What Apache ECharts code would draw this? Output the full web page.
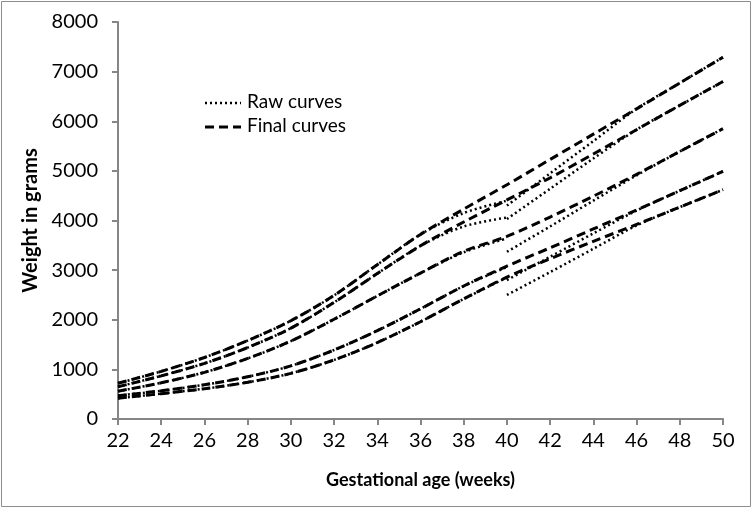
<!DOCTYPE html>
<html>
<head>
<meta charset="utf-8">
<script src="https://cdn.jsdelivr.net/npm/echarts@6/dist/echarts.min.js"></script>
<style>html,body{margin:0;padding:0;background:#fff;}#c{width:752px;height:509px;}</style>
</head>
<body>
<div id="c"></div>
<script>
// Weeks
var weeksFinal = [22,24,26,28,30,32,34,36,38,40,42,44,46,48,50];
var weeksPreterm = [22,24,26,28,30,32,34,36,38,40];
var weeksTerm = [40,42,44,46,48,50];

// Final curves (grams)
var final97 = [720,960,1240,1580,1980,2490,3110,3720,4230,4720,5230,5740,6250,6770,7290];
var final90 = [650,870,1120,1440,1830,2350,2930,3490,3970,4415,4860,5340,5830,6320,6800];
var final50 = [560,730,940,1220,1570,2010,2480,2940,3380,3680,4070,4490,4930,5390,5850];
var final10 = [470,570,690,850,1070,1390,1780,2220,2680,3080,3450,3830,4210,4600,4990];
var final3  = [420,510,610,740,920,1190,1540,1960,2420,2860,3230,3580,3920,4270,4620];

// Raw curves: preterm data (22-40 weeks)
var rawPre97 = [720,960,1240,1580,1980,2490,3110,3720,4150,4400];
var rawPre90 = [650,870,1120,1440,1830,2350,2930,3490,3880,4060];
var rawPre50 = [560,730,940,1220,1570,2010,2480,2940,3360,3640];
var rawPre10 = [470,570,690,850,1070,1390,1780,2220,2680,3060];
var rawPre3  = [420,510,610,740,920,1190,1540,1960,2420,2850];

// Raw curves: term data (40-50 weeks)
var rawTerm97 = [4300,4950,5600,6250,6770,7290];
var rawTerm90 = [4030,4640,5250,5830,6320,6800];
var rawTerm50 = [3370,3880,4400,4910,5390,5850];
var rawTerm10 = [2800,3270,3740,4200,4600,4990];
var rawTerm3  = [2500,2960,3430,3900,4270,4620];

var yTicks = [0,1000,2000,3000,4000,5000,6000,7000,8000];
var xTicks = [22,24,26,28,30,32,34,36,38,40,42,44,46,48,50];
var legendLabels = ['Raw curves','Final curves'];

function pairs(xs, ys){ return xs.map(function(x,i){ return [x, ys[i]]; }); }

var dashedStyle = {color:'#000', width:3, type:[9,5], cap:'butt'};
var dottedStyle = {color:'#000', width:2.5, type:[2,3], cap:'butt'};

function mk(name, xs, ys, style, z){
  return {
    name: name, type:'line', data: pairs(xs, ys), symbol:'none', showSymbol:false,
    smooth: 0.3, lineStyle: style, itemStyle:{color:'#000'},
    z: z, silent:true, animation:false
  };
}

var series = [
  mk('Final curves', weeksFinal, final97, dashedStyle, 2),
  mk('Final curves', weeksFinal, final90, dashedStyle, 2),
  mk('Final curves', weeksFinal, final50, dashedStyle, 2),
  mk('Final curves', weeksFinal, final10, dashedStyle, 2),
  mk('Final curves', weeksFinal, final3, dashedStyle, 2),
  mk('Raw curves', weeksPreterm, rawPre97, dottedStyle, 3),
  mk('Raw curves', weeksPreterm, rawPre90, dottedStyle, 3),
  mk('Raw curves', weeksPreterm, rawPre50, dottedStyle, 3),
  mk('Raw curves', weeksPreterm, rawPre10, dottedStyle, 3),
  mk('Raw curves', weeksPreterm, rawPre3, dottedStyle, 3),
  mk('Raw curves', weeksTerm, rawTerm97, dottedStyle, 3),
  mk('Raw curves', weeksTerm, rawTerm90, dottedStyle, 3),
  mk('Raw curves', weeksTerm, rawTerm50, dottedStyle, 3),
  mk('Raw curves', weeksTerm, rawTerm10, dottedStyle, 3),
  mk('Raw curves', weeksTerm, rawTerm3, dottedStyle, 3)
];

var chart = echarts.init(document.getElementById('c'), null, {renderer:'canvas'});
var fontFam = 'Lato, "Open Sans", sans-serif';
chart.setOption({
  backgroundColor:'#fff',
  animation:false,
  textStyle:{fontFamily: fontFam},
  grid:{left:118, right:29, top:22, bottom:90, containLabel:false},
  xAxis:{
    type:'value', min:xTicks[0], max:xTicks[xTicks.length-1], interval:2,
    name:'Gestational age (weeks)', nameLocation:'middle', nameGap:52,
    nameTextStyle:{fontFamily:fontFam, fontSize:18, fontWeight:'bold', color:'#000'},
    axisLine:{show:true, lineStyle:{color:'#868686', width:2}},
    axisTick:{show:true, length:6, lineStyle:{color:'#868686', width:2}},
    axisLabel:{fontSize:20, color:'#000', margin:12},
    splitLine:{show:false}
  },
  yAxis:{
    type:'value', min:yTicks[0], max:yTicks[yTicks.length-1], interval:1000,
    name:'Weight in grams', nameLocation:'middle', nameGap:76,
    nameTextStyle:{fontFamily:fontFam, fontSize:20, fontWeight:'bold', color:'#000'},
    axisLine:{show:true, lineStyle:{color:'#868686', width:2}},
    axisTick:{show:true, length:6, lineStyle:{color:'#868686', width:2}},
    axisLabel:{fontSize:20, color:'#000', margin:20, formatter:function(v){return String(v);}},
    splitLine:{show:false}
  },
  graphic:[
    {type:'rect', shape:{x:1.5, y:1.5, width:749, height:505},
     style:{fill:'none', stroke:'#8c8c8c', lineWidth:1}, silent:true, z:100},
    {type:'line', shape:{x1:205, y1:103, x2:241, y2:103},
     style:{stroke:'#000', lineWidth:2.5, lineDash:[2,3]}, silent:true, z:100},
    {type:'text', left:247, top:92,
     style:{text:legendLabels[0], fontFamily:fontFam, fontSize:19, fill:'#000'}, silent:true, z:100},
    {type:'line', shape:{x1:205, y1:127, x2:241, y2:127},
     style:{stroke:'#000', lineWidth:3, lineDash:[9,5]}, silent:true, z:100},
    {type:'text', left:247, top:116,
     style:{text:legendLabels[1], fontFamily:fontFam, fontSize:19, fill:'#000'}, silent:true, z:100}
  ],
  series: series
});
</script>
</body>
</html>
